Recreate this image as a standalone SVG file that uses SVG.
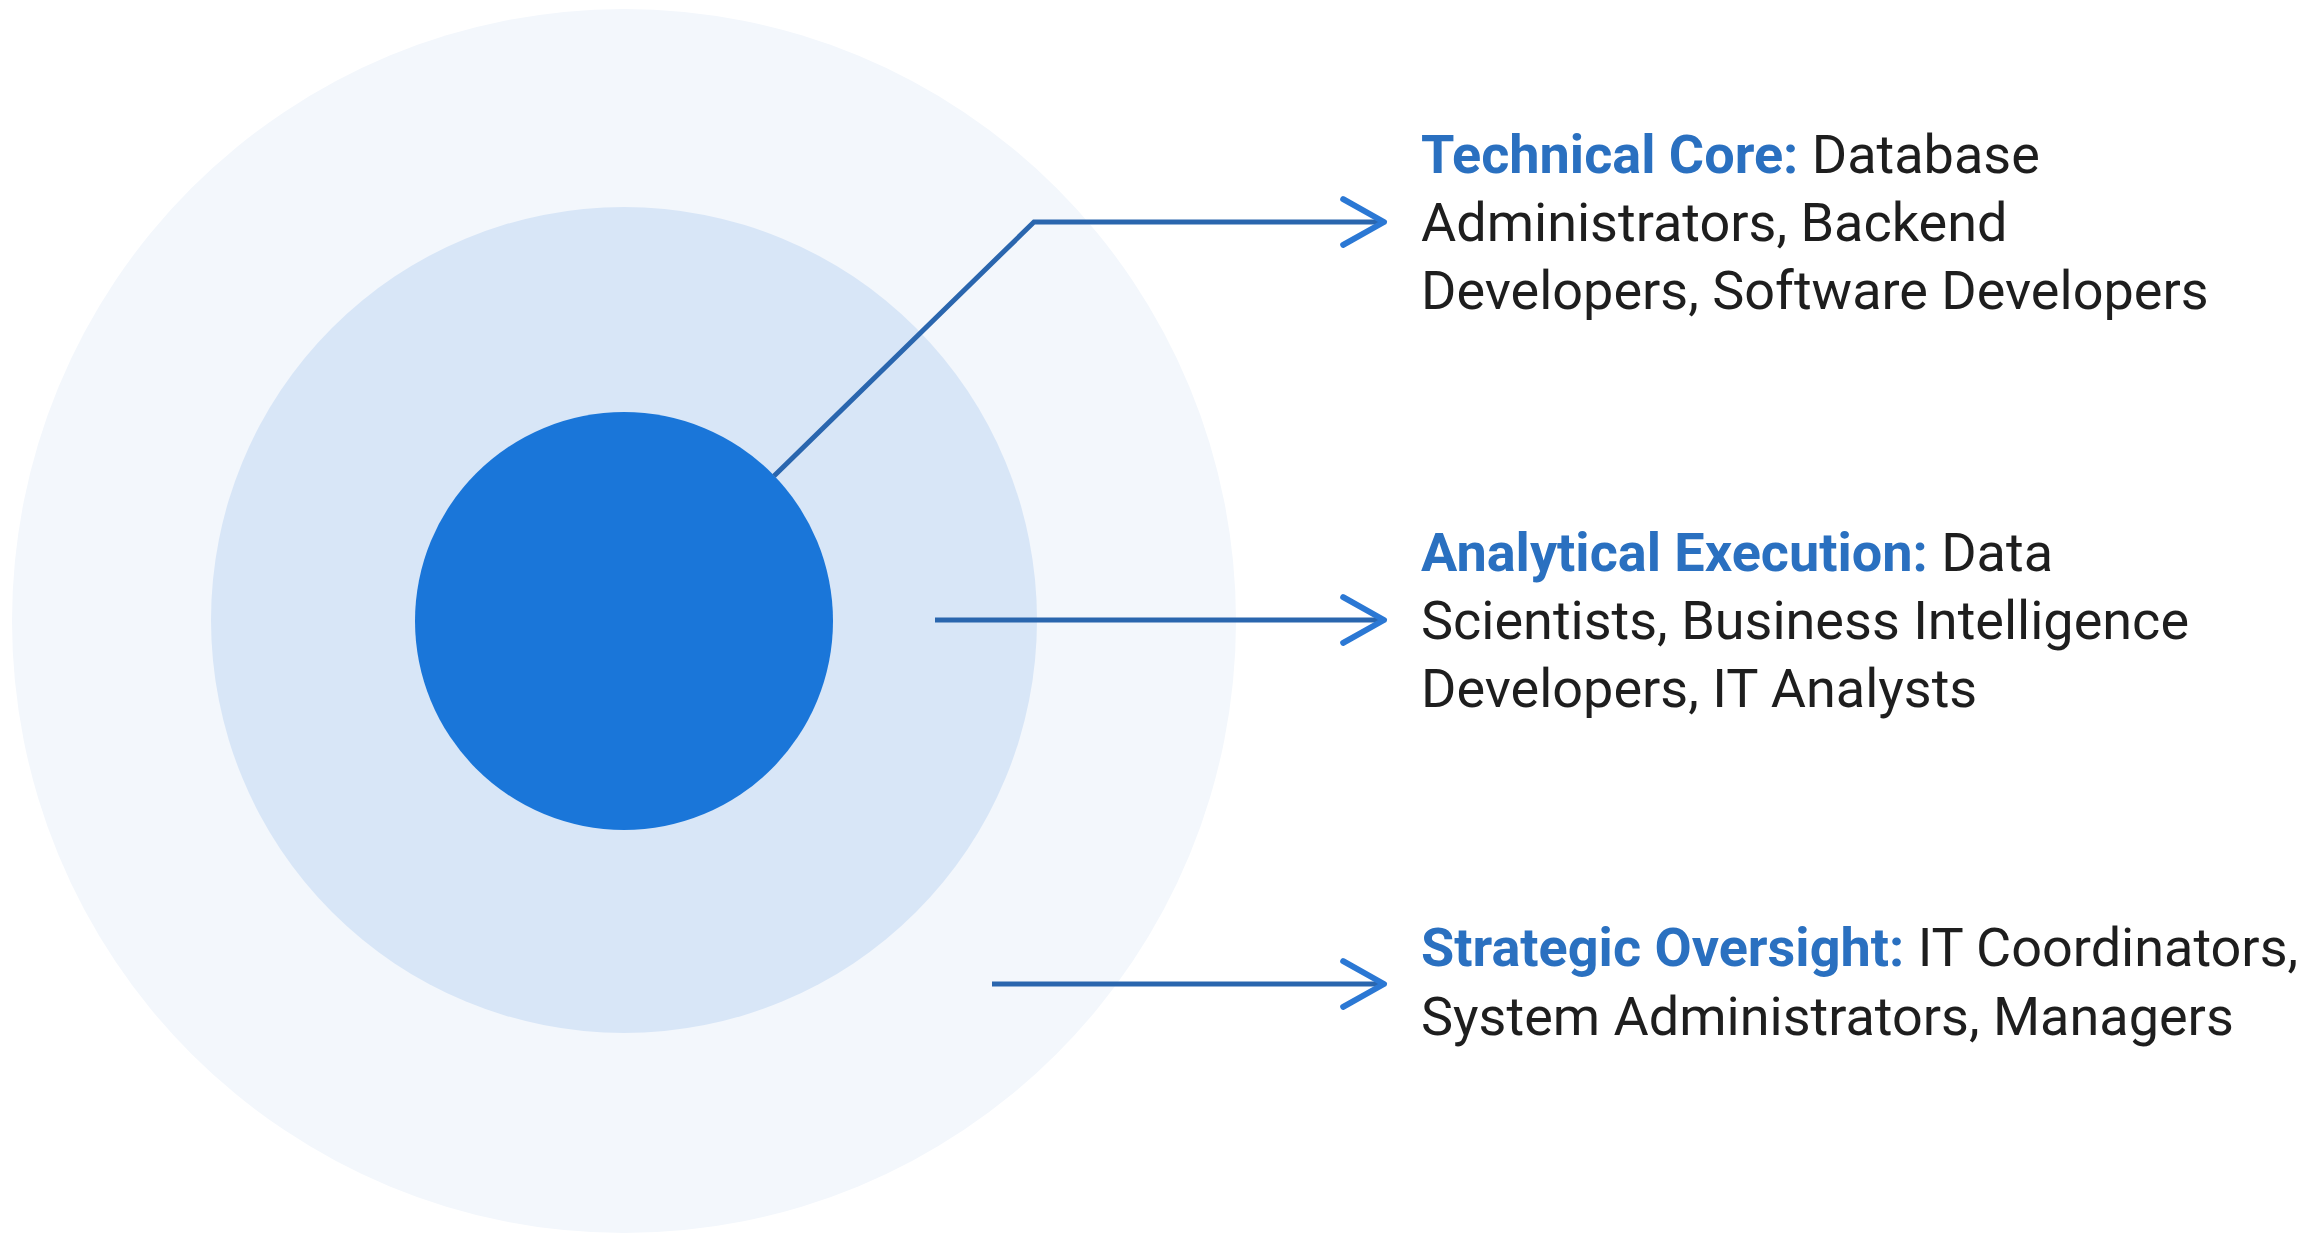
<svg xmlns="http://www.w3.org/2000/svg" width="2321" height="1233" viewBox="0 0 2321 1233">
<style>
.conn{fill:none;stroke:#2a66ae;stroke-width:5;stroke-linejoin:miter}
.txt{font-family:Roboto,"Liberation Sans",sans-serif;font-size:54px;fill:#1e1e1e}
.hd{font-weight:bold;fill:#2a70c0}
</style>
<defs>
<marker id="arr" markerUnits="userSpaceOnUse" markerWidth="60" markerHeight="60" viewBox="-40 -25 50 50" refX="0" refY="0" orient="auto">
<polyline points="-34,-19 0,0 -34,19" fill="none" stroke="#2b78d4" stroke-width="5" stroke-linecap="round" stroke-linejoin="round"/>
</marker>
</defs>
<rect width="2321" height="1233" fill="#ffffff"/>
<g id="outer-ring"><circle cx="624" cy="621" r="612" fill="#f3f7fc"/></g>
<g id="middle-ring"><circle cx="624" cy="620" r="413" fill="#d8e6f7"/></g>
<g id="core"><circle cx="624" cy="621" r="209" fill="#1a76d9"/></g>
<g id="connectors">
<polyline class="conn" points="774,476 1034,222 1384,222" marker-end="url(#arr)"/>
<line class="conn" x1="935" y1="620" x2="1384" y2="620" marker-end="url(#arr)"/>
<line class="conn" x1="992" y1="984" x2="1384" y2="984" marker-end="url(#arr)"/>
</g>
<g id="label-technical">
<text class="txt" x="1421" y="173"><tspan class="hd">Technical Core:</tspan> Database</text>
<text class="txt" x="1421" y="241">Administrators, Backend</text>
<text class="txt" x="1421" y="309">Developers, Software Developers</text>
</g>
<g id="label-analytical">
<text class="txt" x="1421" y="571"><tspan class="hd">Analytical Execution:</tspan> Data</text>
<text class="txt" x="1421" y="639">Scientists, Business Intelligence</text>
<text class="txt" x="1421" y="707">Developers, IT Analysts</text>
</g>
<g id="label-strategic">
<text class="txt" x="1421" y="966"><tspan class="hd">Strategic Oversight:</tspan> IT Coordinators,</text>
<text class="txt" x="1421" y="1035">System Administrators, Managers</text>
</g>
</svg>
